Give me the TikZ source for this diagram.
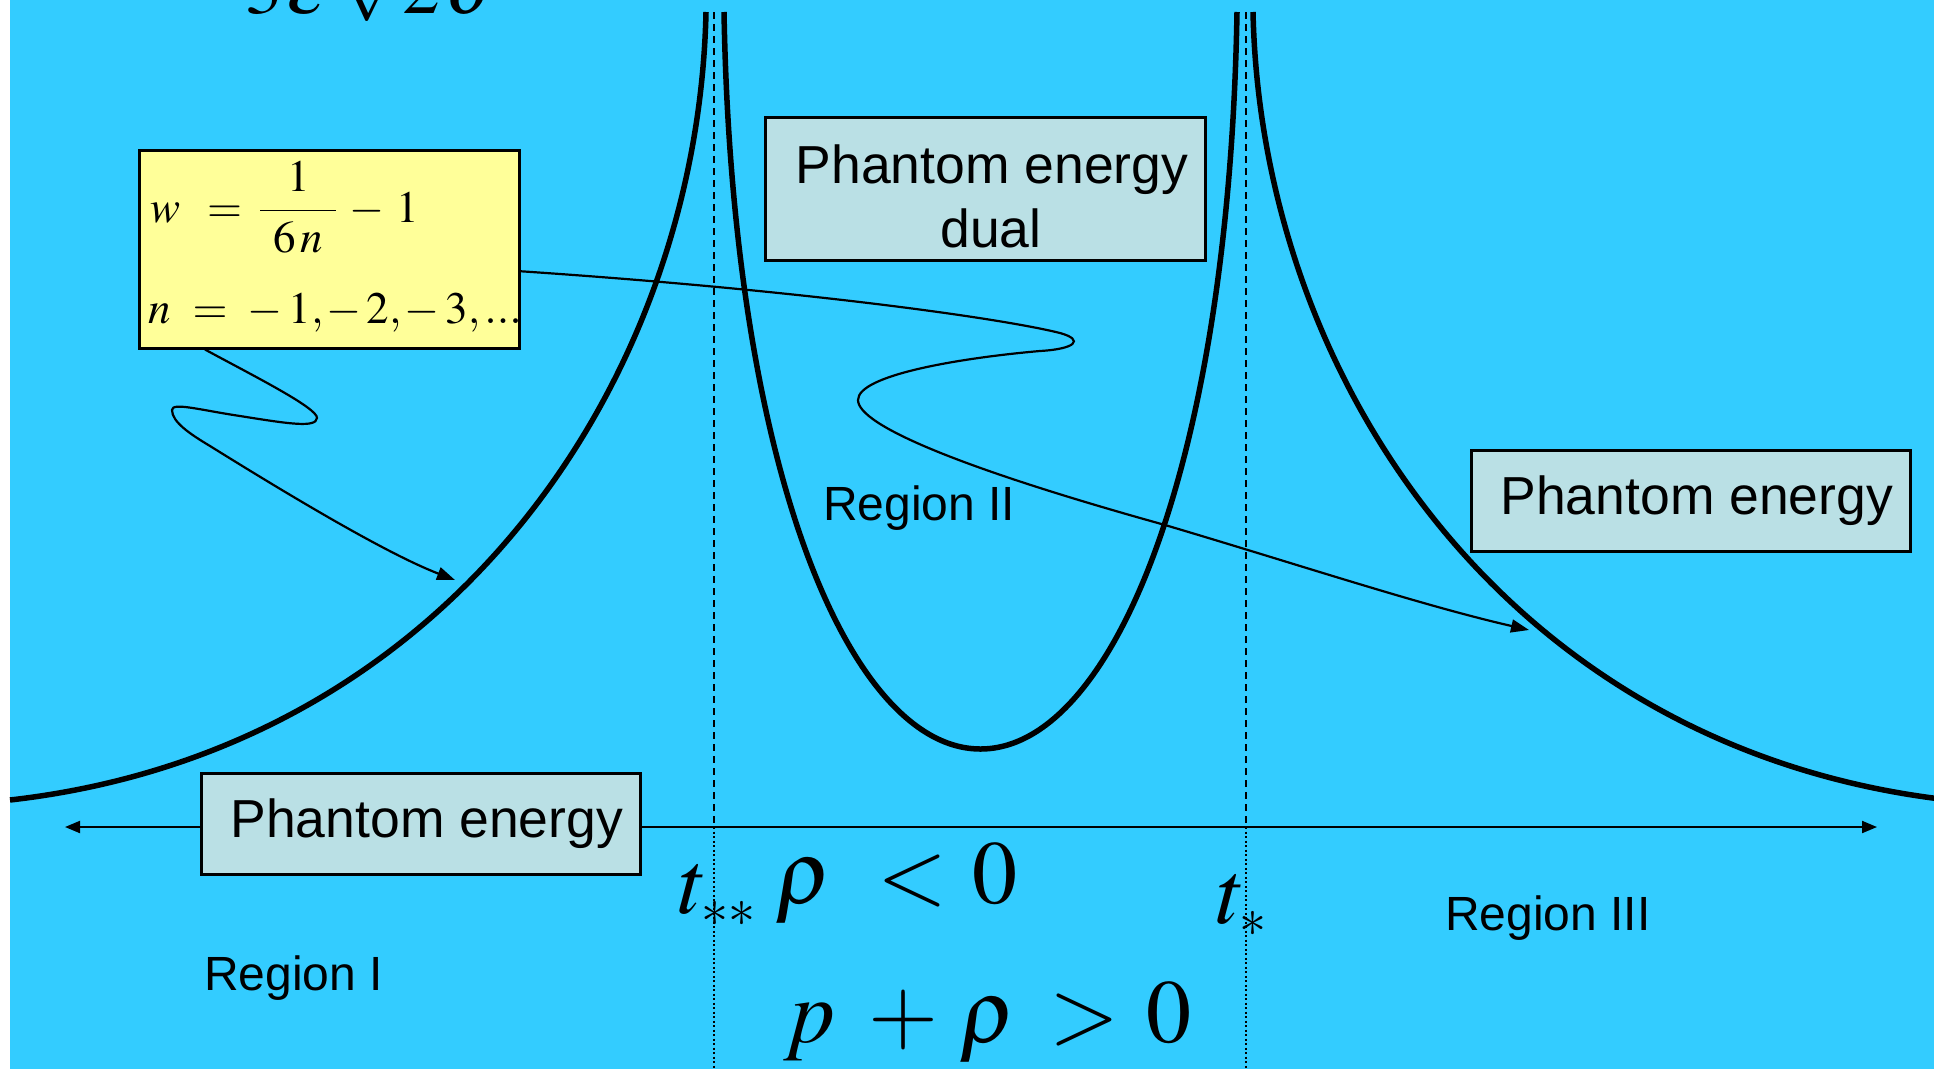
\documentclass[tikz,border=0pt]{standalone}
\usepackage{mathptmx}
\usepackage{exscale}
\usepackage[no-math]{fontspec}
\setmainfont{Liberation Serif}
\newfontfamily\arialf{Liberation Sans}
\usetikzlibrary{arrows.meta,calc}
\definecolor{bgblue}{RGB}{51,204,255}
\definecolor{boxfill}{RGB}{186,224,229}
\definecolor{yel}{RGB}{255,255,153}
\begin{document}
\begin{tikzpicture}[x=1pt,y=-1pt,
  thickcurve/.style={line width=5.5pt,line join=round},
  conn/.style={line width=2.2pt},
  arrowtip/.style={-{Triangle[length=18pt,width=13pt]}},
  pebox/.style={draw=black,line width=2.5pt,fill=boxfill,minimum width=439pt,minimum height=101pt,inner sep=0pt,font=\arialf\fontsize{53.5}{62}\selectfont},
  petext/.style={inner sep=0pt,font=\arialf\fontsize{53.5}{62}\selectfont},
  lbl/.style={inner sep=0pt,font=\arialf\fontsize{48}{56}\selectfont,anchor=base west},
  bigmath/.style={inner sep=0pt,anchor=base west,font=\fontsize{90}{100}\selectfont},
  ymath/.style={inner sep=0pt,anchor=base west,font=\fontsize{45}{50}\selectfont},
  dashedguide/.style={line width=1.8pt,dash pattern=on 7pt off 5pt},
  dottedguide/.style={line width=1.5pt,dash pattern=on 2pt off 2.5pt},
  axisline/.style={line width=2pt}
]
\useasboundingbox (0,0) rectangle (1934,1069);
\clip (0,0) rectangle (1934,1069);
\fill[white] (0,0) rectangle (1934,1069);
\fill[bgblue] (10,0) rectangle (1934,1069);

% partially visible formula at the top
\node[anchor=base west,inner sep=0pt,font=\fontsize{75}{80}\selectfont] (topf) at (245,13)
  {$3\hspace{4pt}\varepsilon\hspace{14pt}\sqrt{2\hspace{6pt}\delta}$};

% guide lines
\coordinate (d1top) at (714,12);
\coordinate (d1ax) at (714,827);
\coordinate (d1bot) at (714,1069);
\coordinate (d2top) at (1246,12);
\coordinate (d2ax) at (1246,827);
\coordinate (d2bot) at (1246,1069);
\draw[dashedguide] (d1top) -- (d1ax);
\draw[dottedguide] (d1ax) -- (d1bot);
\draw[dashedguide] (d2top) -- (d2ax);
\draw[dottedguide] (d2ax) -- (d2bot);

% thick curves
\draw[thickcurve] (10,800) .. controls (450,750) and (698,380) .. (706,12);
\draw[thickcurve] (1949,800) .. controls (1509,750) and (1261,380) .. (1253,12);
\draw[thickcurve] (724,12) .. controls (732,470) and (850,749) .. (980.5,749) .. controls (1111,749) and (1229,470) .. (1237,12);

% axis
\coordinate (axL) at (65,827);
\coordinate (axR) at (1877,827);
\draw[axisline,{Triangle[length=15pt,width=12pt]}-{Triangle[length=15pt,width=12pt]}] (axL) -- (axR);

% boxes
\node[pebox,anchor=north west] (pe1) at (200,772) {\hspace*{12pt}Phantom energy};
\node[pebox,anchor=north west] (pe2) at (1470,449) {\hspace*{12pt}Phantom energy};
\node[pebox,anchor=north west,minimum width=440pt,minimum height=143pt] (pe3) at (764,116) {};
\node[petext,anchor=base] (pe3a) at (992,183) {Phantom energy};
\node[petext,anchor=base] (pe3b) at (991,247) {dual};

% yellow box
\node[draw=black,line width=2.5pt,fill=yel,minimum width=380pt,minimum height=198pt,inner sep=0pt,anchor=north west] (ybox) at (138,149) {};
\node[ymath] (eqw) at (150,222) {$w\hspace{27pt}{=}\hspace{17pt}\displaystyle\frac{1}{\hspace{13pt}6\,n\hspace{13pt}}\hspace{12pt}{-}\hspace{12pt}1$};
\node[ymath] (eqn) at (148,323) {$n\hspace{22pt}{=}\hspace{20pt}{-}\hspace{6pt}1{,}\hspace{3pt}{-}\hspace{5pt}2{,}\hspace{3pt}{-}\hspace{6pt}3{,}\hspace{4pt}{.}{.}{.}$};

% connectors
\coordinate (tipA) at (455,580);
\coordinate (tipB) at (1529,630);
\draw[conn,arrowtip] ($(ybox.south west)+(67,0)$) .. controls (250,374) and (318,408) .. (317,418) .. controls (316,428) and (290,424) .. (240,416) .. controls (200,410) and (172,402) .. (172,410) .. controls (172,422) and (190,434) .. (210,446) .. controls (300,502) and (390,555) .. (tipA);
\draw[conn,arrowtip] ($(ybox.east)+(0,22)$) .. controls (800,290) and (1000,318) .. (1060,333) .. controls (1085,340) and (1075,349) .. (1040,351) .. controls (960,358) and (858,375) .. (858,400) .. controls (858,425) and (960,468) .. (1165,525) .. controls (1300,565) and (1420,605) .. (tipB);

% labels
\node[lbl] (r1) at (204,990) {Region I};
\node[lbl] (r2) at (823,520) {Region II};
\node[lbl] (r3) at (1445,930) {Region III};

\node[bigmath] (tss) at (679,913) {$t_{\scriptscriptstyle **}$};
\node[bigmath] (rho) at (775,903) {$\rho\hspace{45pt}{<}\hspace{25pt}0$};
\node[bigmath] (ppr) at (784,1042) {$p\hspace{33pt}{+}\hspace{21pt}\rho\hspace{33pt}{>}\hspace{27pt}0$};
\node[bigmath] (ts) at (1217,923) {$t_{\scriptscriptstyle *}$};
\end{tikzpicture}
\end{document}
